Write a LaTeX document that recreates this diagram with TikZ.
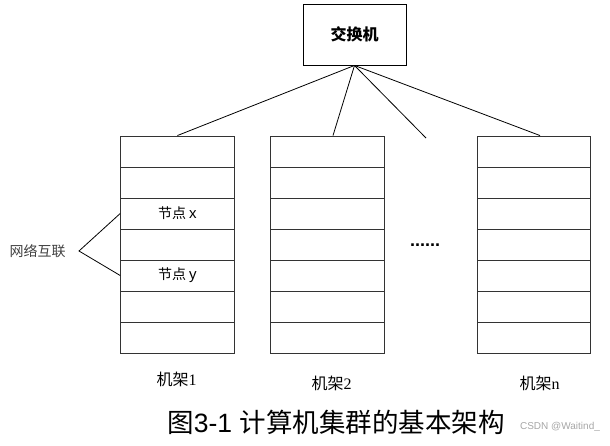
\documentclass[tikz,border=0pt]{standalone}
\usepackage{fontspec}
\setmainfont{Liberation Serif}
\newfontfamily\cjk{Noto Sans CJK SC}
\newfontfamily\arial{Liberation Sans}
\newfontfamily\serif{Liberation Serif}
\begin{document}
\begin{tikzpicture}[x=1pt,y=-1pt,
  cell/.style={draw=black!80,line width=0.9pt,minimum width=113.5pt,minimum height=31pt,inner sep=0pt},
  link/.style={draw=black,line width=0.8pt},
  lbl/.style={inner sep=0pt,font=\fontsize{16pt}{18pt}\selectfont},
  celltext/.style={font=\fontsize{14pt}{16pt}\selectfont}]
\useasboundingbox (0,0) rectangle (610,446);
% switch
\node[draw=black,line width=0.9pt,minimum width=103pt,minimum height=61pt,inner sep=0pt,
  font=\fontsize{16pt}{18pt}\selectfont\cjk\bfseries] (sw) at (354.5,34.5) {交换机};
% racks
\foreach \r/\cx in {1/177.4,2/327.4,n/533.7}{
  \foreach \i in {1,...,7}{
    \node[cell] (r\r-\i) at (\cx,{136+31*(\i-0.5)}) {};
  }
}
\node[celltext] at (r1-3) {\cjk 节点 \arial\fontsize{15pt}{16pt}\selectfont x};
\node[celltext] at (r1-5) {\cjk 节点 \arial\fontsize{15pt}{16pt}\selectfont y};
% switch links
\coordinate (free) at (426,138);
\draw[link] (sw.south) -- (r1-1.north);
\draw[link] (sw.south) -- ([xshift=5.6pt]r2-1.north);
\draw[link] (sw.south) -- (free);
\draw[link] (sw.south) -- ([xshift=6.3pt]rn-1.north);
% dots
\node[inner sep=0pt,font=\fontsize{18pt}{20pt}\selectfont\arial\bfseries] (dots) at (425,245) {......};
% network interconnect
\node[inner sep=0pt,text=black!75,font=\fontsize{14pt}{16pt}\selectfont\cjk] (net) at (37.5,251) {网络互联};
\coordinate (apex) at (79,251);
\draw[link] (r1-3.west) -- (apex) -- (r1-5.west);
% rack labels
\node[lbl] (l1) at (176.5,379) {\cjk 机架\serif 1};
\node[lbl] (l2) at (331.5,383) {\cjk 机架\serif 2};
\node[lbl] (ln) at (539.5,383) {\cjk 机架\serif n};
% caption
\node[inner sep=0pt,font=\fontsize{26.5pt}{28pt}\selectfont] (cap) at (336,422) {\cjk 图\arial 3-1 \cjk 计算机集群的基本架构};
\node[inner sep=0pt,text=black!35,font=\fontsize{10pt}{12pt}\selectfont\arial] (wm) at (560,427) {CSDN @Waitind\_};
\end{tikzpicture}
\end{document}
